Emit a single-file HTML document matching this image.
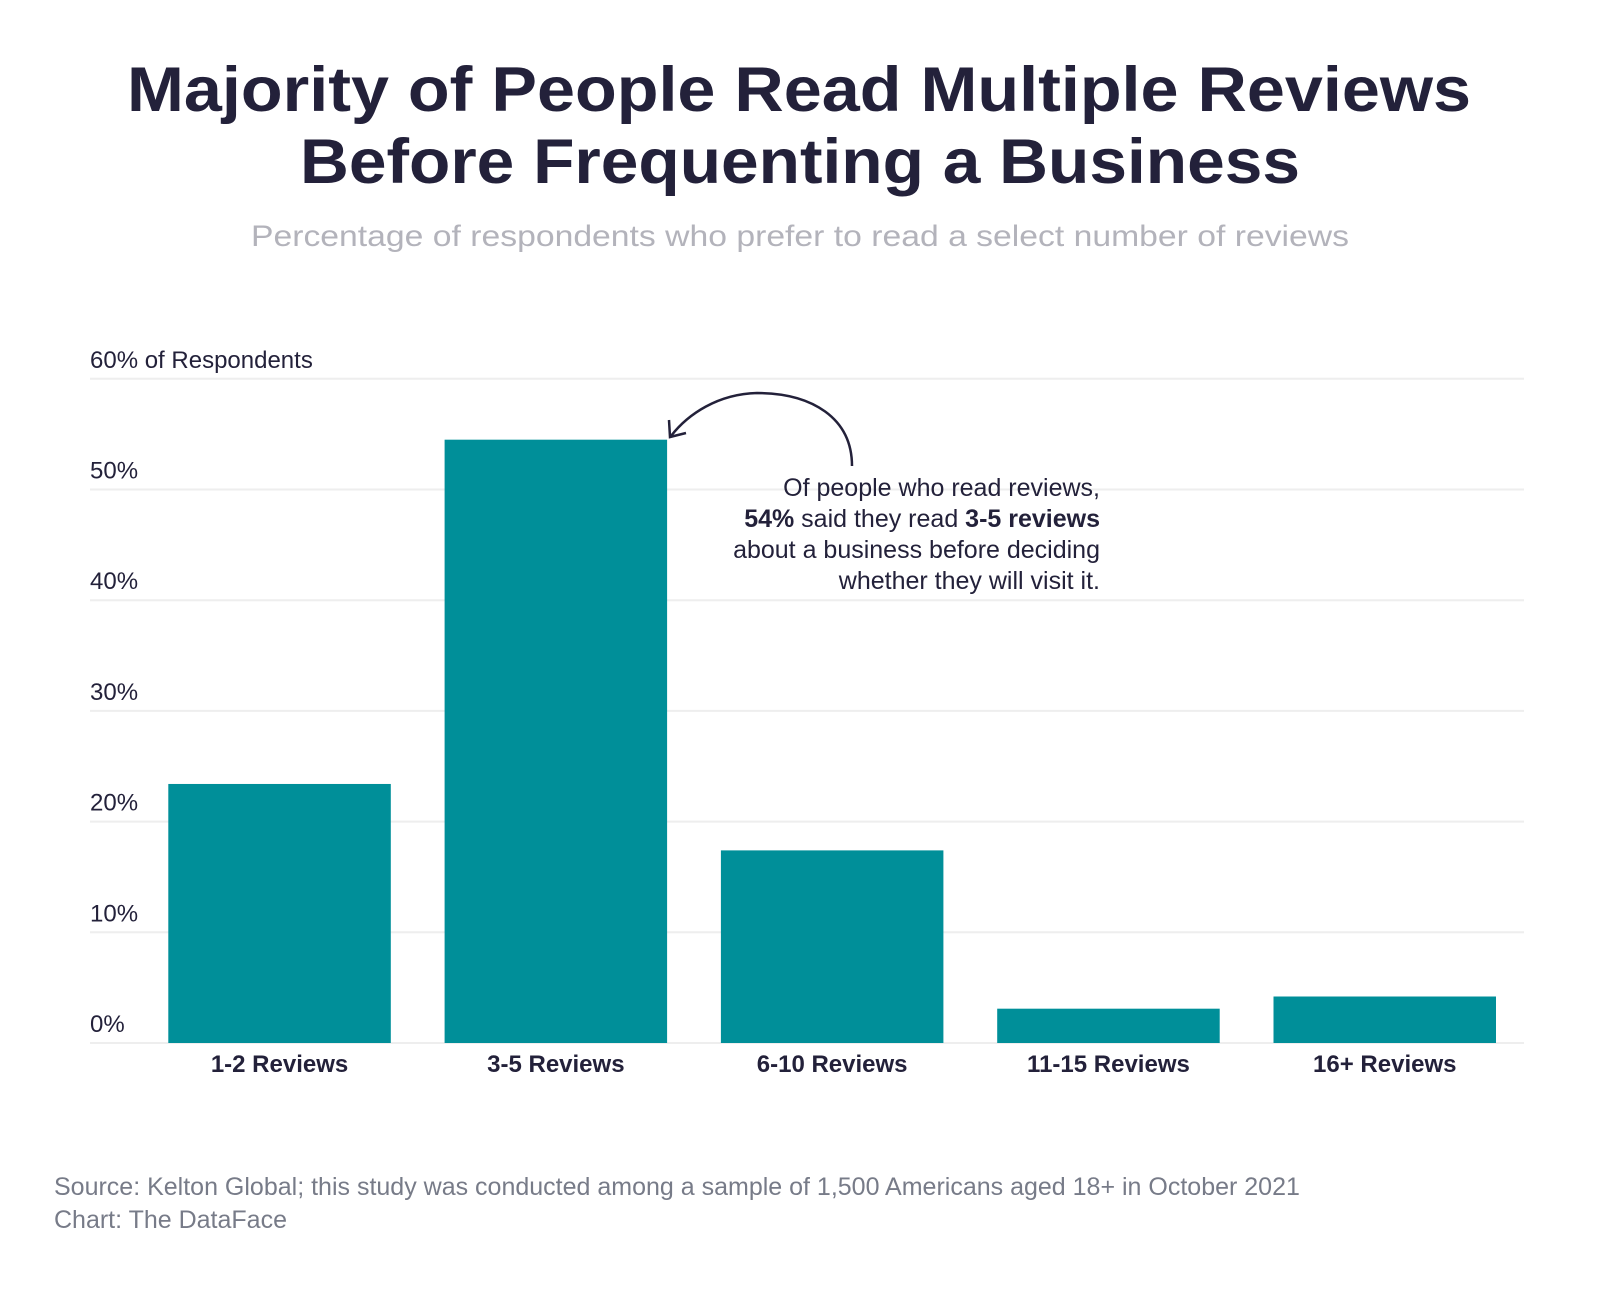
<!DOCTYPE html>
<html><head><meta charset="utf-8"><style>
html,body{margin:0;padding:0;background:#fff;}
svg{display:block;font-family:"Liberation Sans",sans-serif;}
</style></head><body>
<svg id="chart" width="1600" height="1289" viewBox="0 0 1600 1289">
<text x="799" y="111" text-anchor="middle" font-size="63" font-weight="bold" fill="#23213a" textLength="1344" lengthAdjust="spacingAndGlyphs">Majority of People Read Multiple Reviews</text>
<text x="800" y="183" text-anchor="middle" font-size="63" font-weight="bold" fill="#23213a" textLength="1000" lengthAdjust="spacingAndGlyphs">Before Frequenting a Business</text>
<text x="800" y="246" text-anchor="middle" font-size="30" fill="#b3b3bb" textLength="1098" lengthAdjust="spacingAndGlyphs">Percentage of respondents who prefer to read a select number of reviews</text>
<g id="grid"></g>
<g id="bars"></g>
<g id="xlabels"></g>
<g fill="#23213a" font-size="25" text-anchor="end">
<text x="1100" y="496">Of people who read reviews,</text>
<text x="1100" y="527"><tspan font-weight="bold">54%</tspan> said they read <tspan font-weight="bold">3-5 reviews</tspan></text>
<text x="1100" y="558">about a business before deciding</text>
<text x="1100" y="589">whether they will visit it.</text>
</g>
<path d="M852 466 C 852 418 812 393 757 393 C 718 394 688 414 671 436" fill="none" stroke="#23213a" stroke-width="2.5"/>
<path d="M669 420 L670 437 L686 433" fill="none" stroke="#23213a" stroke-width="2.5"/>
<text x="54" y="1195" font-size="25" fill="#777b88">Source: Kelton Global; this study was conducted among a sample of 1,500 Americans aged 18+ in October 2021</text>
<text x="54" y="1228" font-size="25" fill="#777b88">Chart: The DataFace</text>
</svg>
<script>
const categories = ["1-2 Reviews","3-5 Reviews","6-10 Reviews","11-15 Reviews","16+ Reviews"];
const values = [23.4, 54.5, 17.4, 3.1, 4.2];
const yTicks = [0,10,20,30,40,50,60];
const yTickLabels = ["0%","10%","20%","30%","40%","50%","60% of Respondents"];

const NS = "http://www.w3.org/2000/svg";
const y0 = 1043, pxPer = 11.07;
function yScale(v){ return y0 - v*pxPer; }
const bandStart = 141.4, step = 276.3, barW = 222.5;
function xCenter(i){ return bandStart + step*i + step/2; }

const grid = document.getElementById('grid');
yTicks.forEach((t,i)=>{
  const l = document.createElementNS(NS,'line');
  l.setAttribute('x1',90); l.setAttribute('x2',1524);
  l.setAttribute('y1',yScale(t)); l.setAttribute('y2',yScale(t));
  l.setAttribute('stroke','#eeeeee'); l.setAttribute('stroke-width',2);
  
  
  grid.appendChild(l);
  const tx = document.createElementNS(NS,'text');
  tx.setAttribute('x',90); tx.setAttribute('y',yScale(t)-11);
  tx.setAttribute('font-size',24); tx.setAttribute('fill','#23213a');
  tx.textContent = yTickLabels[i];
  
  
  grid.appendChild(tx);
});
const bars = document.getElementById('bars');
const xl = document.getElementById('xlabels');
values.forEach((v,i)=>{
  const r = document.createElementNS(NS,'rect');
  r.setAttribute('x', xCenter(i)-barW/2);
  r.setAttribute('y', yScale(v));
  r.setAttribute('width', barW);
  r.setAttribute('height', y0 - yScale(v));
  r.setAttribute('fill','#008f99');
  
  
  bars.appendChild(r);
  const t = document.createElementNS(NS,'text');
  t.setAttribute('x', xCenter(i)); t.setAttribute('y', 1072);
  t.setAttribute('text-anchor','middle'); t.setAttribute('font-size',24);
  t.setAttribute('font-weight','bold'); t.setAttribute('fill','#23213a');
  t.textContent = categories[i];
  
  
  xl.appendChild(t);
});
</script>
</body></html>
